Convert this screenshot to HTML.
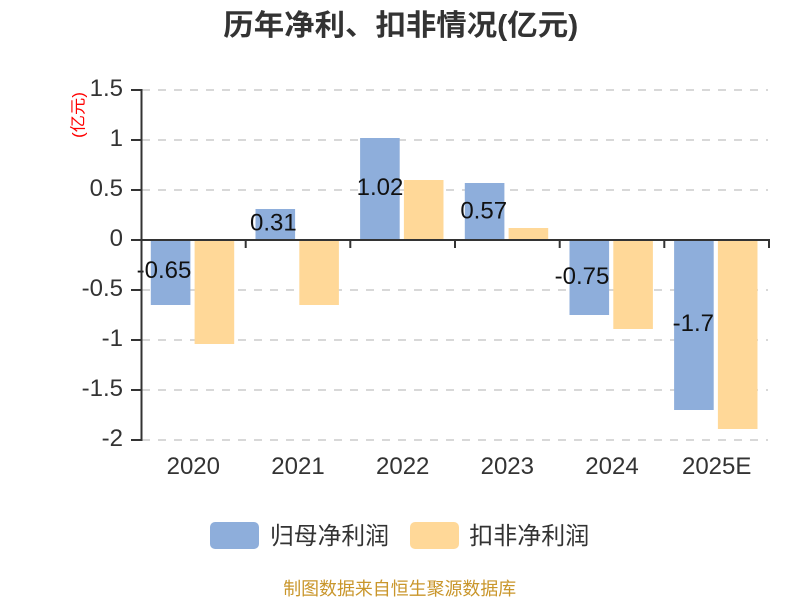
<!DOCTYPE html>
<html>
<head>
<meta charset="utf-8">
<style>
  html, body { margin:0; padding:0; background:#fff; }
  body { width:800px; height:600px; overflow:hidden; }
  svg { display:block; }
  text { font-family: "Liberation Sans", "Noto Sans CJK SC", sans-serif; }
</style>
</head>
<body>
<svg width="800" height="600" viewBox="0 0 800 600" xmlns="http://www.w3.org/2000/svg">
  <rect x="0" y="0" width="800" height="600" fill="#ffffff"/>

  <!-- Title -->
  <text x="400.8" y="35" text-anchor="middle" font-size="29" font-weight="bold" fill="#333" textLength="355" lengthAdjust="spacingAndGlyphs">历年净利、扣非情况(亿元)</text>

  <!-- Y axis unit label -->
  <text transform="translate(79,115) rotate(-90)" text-anchor="middle" dominant-baseline="central" font-size="16" fill="#ff0000" textLength="46" lengthAdjust="spacingAndGlyphs">(亿元)</text>

  <!-- Grid lines -->
  <g stroke="#cccccc" stroke-width="1.5" stroke-dasharray="8 8">
    <line x1="142" y1="90" x2="768" y2="90"/>
    <line x1="142" y1="140" x2="768" y2="140"/>
    <line x1="142" y1="190" x2="768" y2="190"/>
    <line x1="142" y1="290" x2="768" y2="290"/>
    <line x1="142" y1="340" x2="768" y2="340"/>
    <line x1="142" y1="390" x2="768" y2="390"/>
    <line x1="142" y1="440" x2="768" y2="440"/>
  </g>

  <!-- Blue bars -->
  <g fill="#8eaedb">
    <rect x="150.8" y="240" width="39.6" height="65"/>
    <rect x="255.5" y="209" width="39.6" height="31"/>
    <rect x="360.1" y="138" width="39.6" height="102"/>
    <rect x="464.8" y="183" width="39.6" height="57"/>
    <rect x="569.5" y="240" width="39.6" height="75"/>
    <rect x="674.1" y="240" width="39.6" height="170"/>
  </g>

  <!-- Value labels -->
  <g font-size="24" fill="#111" text-anchor="middle">
    <text x="164" y="278">-0.65</text>
    <text x="273.4" y="230.5">0.31</text>
    <text x="380" y="195">1.02</text>
    <text x="483.7" y="218.3">0.57</text>
    <text x="582" y="284">-0.75</text>
    <text x="693.3" y="331">-1.7</text>
  </g>

  <!-- Orange bars -->
  <g fill="#ffd898">
    <rect x="194.6" y="240" width="39.6" height="104"/>
    <rect x="299.3" y="240" width="39.6" height="65"/>
    <rect x="403.9" y="180" width="39.6" height="60"/>
    <rect x="508.6" y="228" width="39.6" height="12"/>
    <rect x="613.3" y="240" width="39.6" height="89"/>
    <rect x="717.9" y="240" width="39.6" height="189"/>
  </g>

  <!-- Axes -->
  <g stroke="#333" stroke-width="2" fill="none">
    <line x1="141.5" y1="89" x2="141.5" y2="441"/>
    <line x1="140.5" y1="240" x2="770" y2="240"/>
    <!-- y ticks -->
    <line x1="131" y1="90" x2="141" y2="90"/>
    <line x1="131" y1="140" x2="141" y2="140"/>
    <line x1="131" y1="190" x2="141" y2="190"/>
    <line x1="131" y1="240" x2="141" y2="240"/>
    <line x1="131" y1="290" x2="141" y2="290"/>
    <line x1="131" y1="340" x2="141" y2="340"/>
    <line x1="131" y1="390" x2="141" y2="390"/>
    <line x1="131" y1="440" x2="141" y2="440"/>
    <!-- x ticks -->
    <line x1="245.7" y1="240" x2="245.7" y2="248"/>
    <line x1="350.3" y1="240" x2="350.3" y2="248"/>
    <line x1="455" y1="240" x2="455" y2="248"/>
    <line x1="559.7" y1="240" x2="559.7" y2="248"/>
    <line x1="664.3" y1="240" x2="664.3" y2="248"/>
    <line x1="769" y1="240" x2="769" y2="248"/>
  </g>

  <!-- Y tick labels -->
  <g font-size="24" fill="#333" text-anchor="end">
    <text x="123" y="96">1.5</text>
    <text x="123" y="146">1</text>
    <text x="123" y="196">0.5</text>
    <text x="123" y="246">0</text>
    <text x="123" y="296">-0.5</text>
    <text x="123" y="346">-1</text>
    <text x="123" y="396">-1.5</text>
    <text x="123" y="446">-2</text>
  </g>

  <!-- X labels -->
  <g font-size="24" fill="#333" text-anchor="middle">
    <text x="193.3" y="474">2020</text>
    <text x="298" y="474">2021</text>
    <text x="402.7" y="474">2022</text>
    <text x="507.3" y="474">2023</text>
    <text x="612" y="474">2024</text>
    <text x="716.7" y="474">2025E</text>
  </g>

  <!-- Legend -->
  <rect x="210" y="522" width="49" height="27" rx="5" ry="5" fill="#8eaedb"/>
  <text x="270" y="544" font-size="24" fill="#333" textLength="119" lengthAdjust="spacingAndGlyphs">归母净利润</text>
  <rect x="410" y="522" width="49" height="27" rx="5" ry="5" fill="#ffd898"/>
  <text x="469.3" y="544" font-size="24" fill="#333" textLength="120" lengthAdjust="spacingAndGlyphs">扣非净利润</text>

  <!-- Footer -->
  <text x="399.7" y="595" text-anchor="middle" font-size="18" fill="#c9962b" textLength="233" lengthAdjust="spacingAndGlyphs">制图数据来自恒生聚源数据库</text>
</svg>
</body>
</html>
